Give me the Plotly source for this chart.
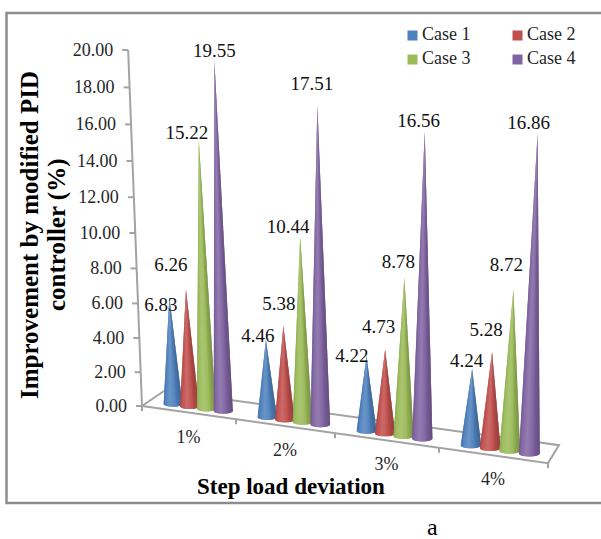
import numpy as np
import plotly.graph_objects as go

categories = ["1%", "2%", "3%", "4%"]
series_names = ["Case 1", "Case 2", "Case 3", "Case 4"]
case_1 = [6.26, 4.46, 4.22, 4.24]
case_2 = [6.83, 5.38, 4.73, 5.28]
case_3 = [15.22, 10.44, 8.78, 8.72]
case_4 = [19.55, 17.51, 16.56, 16.86]
label_1 = ["6.83", "4.46", "4.22", "4.24"]
label_2 = ["6.26", "5.38", "4.73", "5.28"]
label_3 = ["15.22", "10.44", "8.78", "8.72"]
label_4 = ["19.55", "17.51", "16.56", "16.86"]
y_ticks = [0, 2, 4, 6, 8, 10, 12, 14, 16, 18, 20]

values = [case_1, case_2, case_3, case_4]
labels = [label_1, label_2, label_3, label_4]

# Manually placed data labels in the source chart: offsets from each cone tip (pixels)
label_offsets = [
    [(-8.5, 9), (-8, -3), (-14.5, 1), (-5.5, -7)],
    [(-15, -23), (-4.5, -21), (-6.5, -21), (-6, -21)],
    [(-12, -6), (-12, -8), (-6, -14), (-7, -24)],
    [(0, -8), (-5.5, -21), (-6, -9), (-9, -9)],
]

base_colors = ["#4F81BD", "#C0504D", "#9BBB59", "#8064A2"]
SERIF = "Liberation Serif"
GRAY = "#a3a3a3"
W, H = 601, 539
VPX, VPY = 375.0, 6390.0  # vanishing point of the "vertical" direction


def floor(t, v):
    """Perspective projection of the floor: t in category units, v = depth 0..1."""
    x = 142 + 91.5 * t + 2.5 * t * t
    y = 406 + (x - 142) * 57 / 405
    dx = 22 + (11 - 22) * t / 4
    dy = -15 + (-18 + 15) * t / 4
    return x + v * dx, y + v * dy


def rise(value):
    return 16.8 * value + 0.05 * value * value


def lift(bx, by, value, depth_scale=True):
    k = 1 + (by - 406) * 0.0016 if depth_scale else 1.0
    h = rise(value) * k
    return bx + (bx - VPX) * h / (VPY - by), by - h


def mix(c, other, f):
    a = np.array([int(c[i:i + 2], 16) for i in (1, 3, 5)], float)
    b = np.array(other, float)
    r = a + (b - a) * f
    return "#%02x%02x%02x" % tuple(int(round(q)) for q in r)


def shade(c, s):
    """s from -1 (left edge) to 1 (right edge)."""
    d = s + 0.25
    light = 0.16 * max(0.0, 1 - abs(d) * 1.6)
    dark = 0.22 * max(0.0, abs(d) - 0.45) / 0.8
    if light > 0:
        return mix(c, (255, 255, 255), light)
    return mix(c, (0, 0, 0), dark)


fig = go.Figure()


def line(xs, ys, width=2, color=GRAY):
    fig.add_trace(go.Scatter(x=xs, y=ys, mode="lines", showlegend=False, hoverinfo="skip",
                             line=dict(color=color, width=width)))


# floor
fl, fr, br, bl = floor(0, 0), floor(4, 0), floor(4, 1), floor(0, 1)
line([bl[0], fl[0], fr[0], br[0], bl[0]], [bl[1], fl[1], fr[1], br[1], bl[1]])
for t in range(0, 5):
    p = floor(t, 0)
    line([p[0], p[0]], [p[1], p[1] + 5])

# value axis
zero = floor(0, 0)
vals = np.array(y_ticks, float)
ax_pts = [lift(zero[0], zero[1], v, False) for v in vals]
line([p[0] for p in ax_pts], [p[1] for p in ax_pts])
for p in ax_pts:
    line([p[0] - 6, p[0]], [p[1], p[1]])
fig.add_trace(go.Scatter(x=[p[0] - 15 for p in ax_pts], y=[p[1] + 1 for p in ax_pts], mode="text",
                         text=["%.2f" % v for v in vals], textposition="middle left",
                         textfont=dict(family=SERIF, size=18, color="#262626"),
                         showlegend=False, hoverinfo="skip"))

# cones
N = 16
tips = {}
for i in range(len(categories)):
    for j in range(len(series_names)):
        t = i + 0.525 + (j - 1.5) * 0.18
        bx, by = floor(t, 0.35)
        a = 9.3 + 0.3 * t
        b = 2.8
        tx, ty = lift(bx, by, values[j][i])
        tips[(j, i)] = (tx, ty)
        th = np.linspace(np.pi, 0, N + 1)
        ex = bx + a * np.cos(th)
        ey = by + b * np.sin(th)
        for k in range(N):
            s = 0.5 * (np.cos(th[k]) + np.cos(th[k + 1]))
            col = shade(base_colors[j], s)
            e = min(k + 2, N)
            fig.add_trace(go.Scatter(
                x=[tx, ex[k], ex[e], tx], y=[ty, ey[k], ey[e], ty],
                mode="none", fill="toself", fillcolor=col,
                showlegend=False, hoverinfo="skip"))

# data labels
for j in range(len(series_names)):
    xs, ys = [], []
    for i in range(len(categories)):
        tx, ty = tips[(j, i)]
        dx, dy = label_offsets[j][i]
        xs.append(tx + dx)
        ys.append(ty + dy)
    fig.add_trace(go.Scatter(x=xs, y=ys, mode="text", text=labels[j], textposition="middle center",
                             textfont=dict(family=SERIF, size=19, color="#111111"),
                             showlegend=False, hoverinfo="skip"))

# category labels
cx, cy = [], []
for i in range(len(categories)):
    p = floor(i + 0.5, 0)
    cx.append(p[0])
    cy.append(p[1] + 25.5)
fig.add_trace(go.Scatter(x=cx, y=cy, mode="text", text=categories, textposition="middle center",
                         textfont=dict(family=SERIF, size=18, color="#262626"),
                         showlegend=False, hoverinfo="skip"))

# legend (2 x 2 block, top right)
for n, (name, col) in enumerate(zip(series_names, base_colors)):
    lx = 412.5 + 105 * (n % 2)
    ly = 35.5 + 24 * (n // 2)
    fig.add_trace(go.Scatter(x=[lx], y=[ly], mode="markers", name=name,
                             showlegend=False, hoverinfo="skip",
                             marker=dict(symbol="square", size=10, color=col, line=dict(width=0))))
    fig.add_trace(go.Scatter(x=[lx + 9.5], y=[ly], mode="text", text=[name],
                             textposition="middle right", showlegend=False, hoverinfo="skip",
                             textfont=dict(family=SERIF, size=18, color="#262626")))

fig.update_layout(
    width=W, height=H, autosize=False,
    margin=dict(l=0, r=0, t=0, b=0),
    paper_bgcolor="white", plot_bgcolor="white",
    xaxis=dict(range=[0, W], visible=False, fixedrange=True),
    yaxis=dict(range=[H, 0], visible=False, fixedrange=True),
    showlegend=False,
    shapes=[dict(type="path", path="M 601 13 L 6.5 13 L 6.5 503 L 601 503",
                 line=dict(color="#8c8c8c", width=2.5), layer="below")],
    annotations=[
        dict(x=291, y=486, xref="x", yref="y", showarrow=False, text="<b>Step load deviation</b>",
             font=dict(family=SERIF, size=23, color="black")),
        dict(x=29, y=235, xref="x", yref="y", showarrow=False, textangle=-90,
             text="<b>Improvement by modified PID</b>",
             font=dict(family=SERIF, size=25, color="black")),
        dict(x=57, y=235, xref="x", yref="y", showarrow=False, textangle=-90,
             text="<b>controller (%)</b>",
             font=dict(family=SERIF, size=25, color="black")),
        dict(x=432, y=527, xref="x", yref="y", showarrow=False, text="a",
             font=dict(family=SERIF, size=24, color="black")),
    ],
)
fig.write_html("out.html", config=dict(displayModeBar=False),
               post_script="document.body.style.margin='0';document.documentElement.style.overflow='hidden';")
